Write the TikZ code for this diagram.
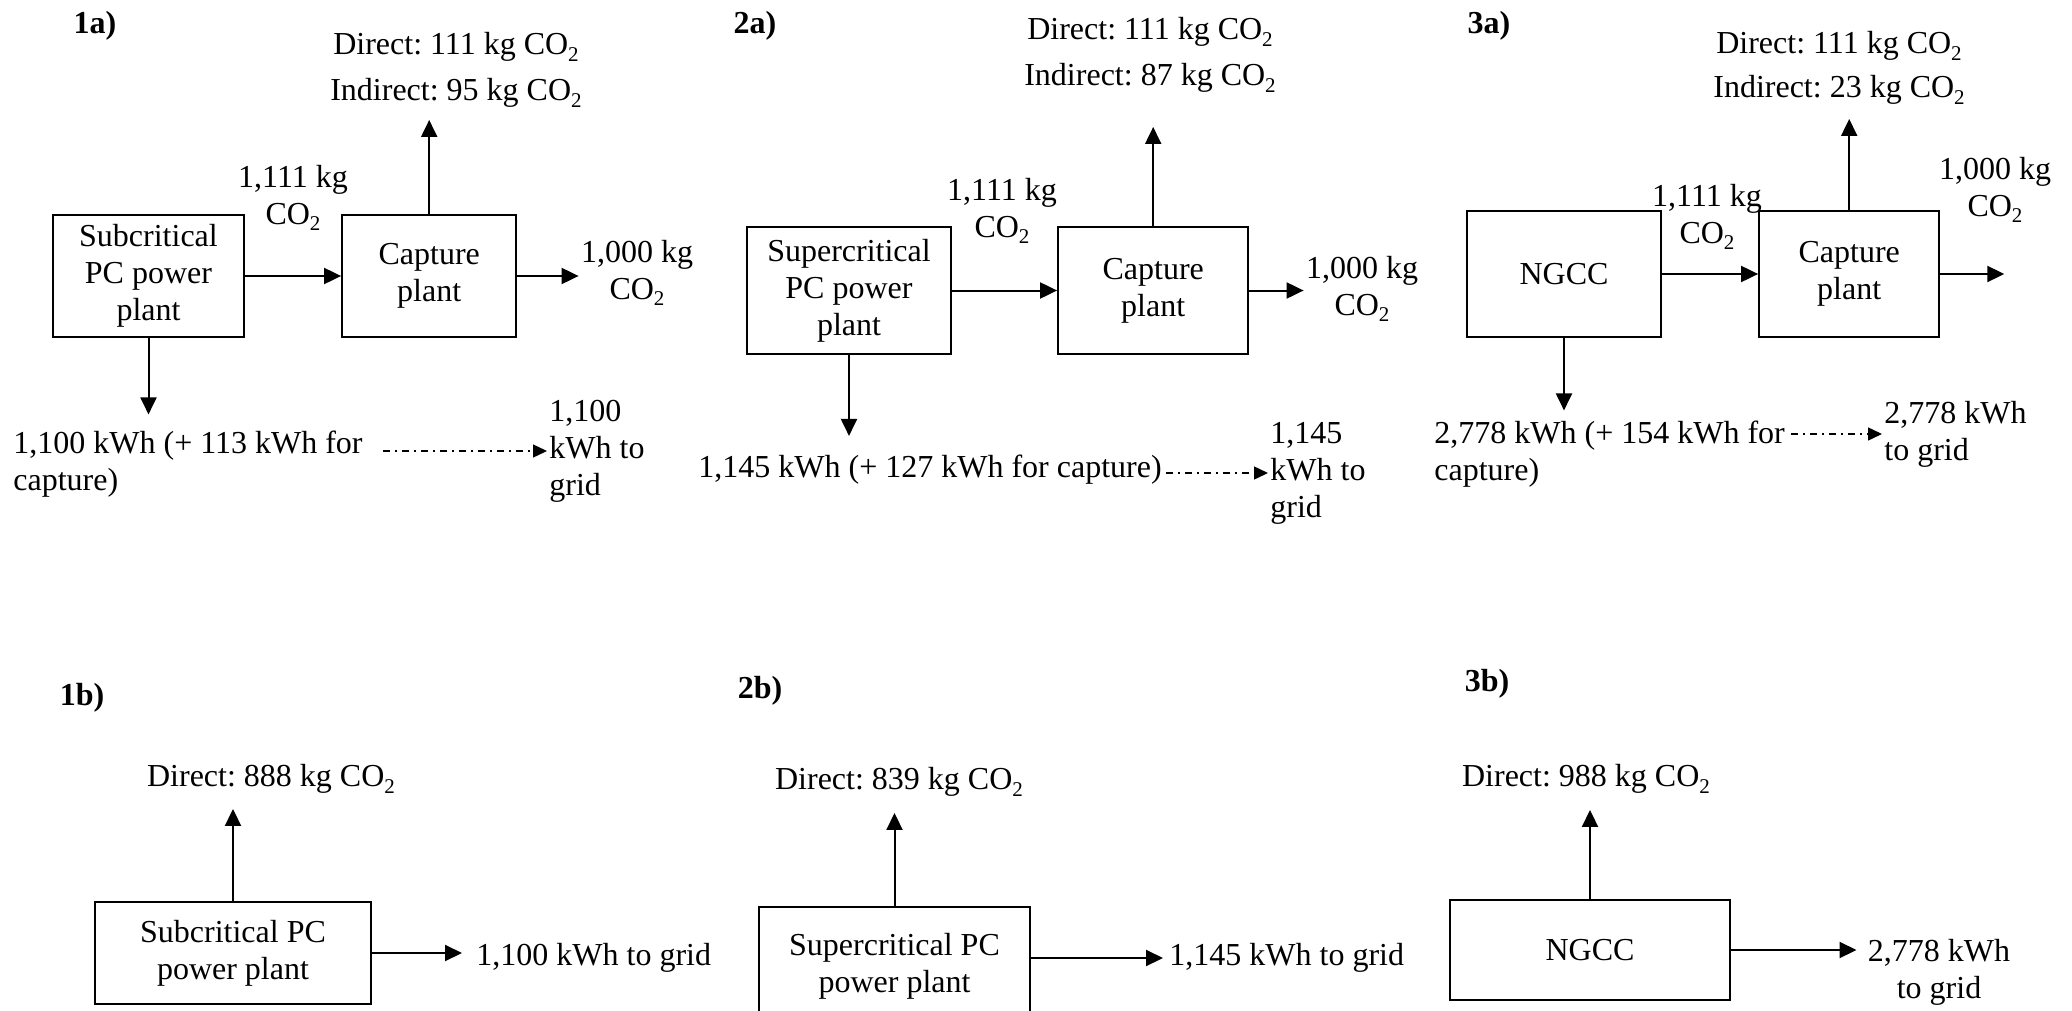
\documentclass[tikz,border=0pt]{standalone}
\usepackage{fontspec}
\setmainfont{Liberation Serif}
\usepackage{tikz}
\usetikzlibrary{
  arrows.meta,
  positioning,
  calc
}
\frenchspacing
\newcommand{\cotwo}{CO\raisebox{-0.45ex}{\fontsize{10.5}{11}\selectfont 2}}

\begin{document}
\begin{tikzpicture}[
    x=0.5pt, y=-0.5pt,
    font=\fontsize{16}{18.5}\selectfont,
    >={Triangle[length=8.5pt, width=8pt]},
    plantbox/.style={draw, line width=1.1pt, align=center, inner sep=2pt},
    txt/.style={align=center, inner sep=1pt},
    txtl/.style={align=left, inner sep=1pt},
    tag/.style={font=\fontsize{16}{18.5}\selectfont\bfseries, inner sep=0pt},
    flow/.style={->, line width=1pt},
    gridflow/.style={-{Triangle[length=7pt, width=6.5pt]}, line width=0.7pt, dash pattern=on 3.5pt off 2.5pt on 1pt off 2.5pt},
]
\useasboundingbox (0,0) rectangle (2072,1011);

% === 1a) Subcritical PC with capture ===
\node[tag] (tag1a) at (95,26) {1a)};
\node[plantbox, minimum width=95.5pt, minimum height=61pt] (sub1a) at (148.5,276) {Subcritical\\PC power\\plant};
\node[plantbox, minimum width=87pt, minimum height=61pt, right=48pt of sub1a] (cap1a) {Capture\\plant};
\node[txt] (in1a) at (293,198) {1,111 kg\\\cotwo};
\node[txt] (em1a) at (456,70) {Direct: 111 kg \cotwo\\[4.5pt]Indirect: 95 kg \cotwo};
\node[txt] (out1a) at (637,273) {1,000 kg\\\cotwo};
\node[txtl, anchor=west] (el1a) at (11,464) {1,100 kWh (+ 113 kWh for\\capture)};
\node[txtl, anchor=west] (grid1a) at (547,451) {1,100\\kWh to\\grid};

\draw[flow] (sub1a) -- (cap1a);
\draw[flow, shorten >=5pt] (cap1a.north) -- (cap1a.north |- em1a.south);
\draw[flow] (cap1a) -- (cap1a -| out1a.west);
\draw[flow, shorten >=7pt] (sub1a.south) -- (sub1a.south |- el1a.north);
\draw[gridflow, shorten <=9pt] (el1a.east |- grid1a.west) -- (grid1a.west);

% === 2a) Supercritical PC with capture ===
\node[tag] (tag2a) at (755,26) {2a)};
\node[plantbox, minimum width=102pt, minimum height=63.5pt] (sup2a) at (849,290.5) {Supercritical\\PC power\\plant};
\node[plantbox, minimum width=95pt, minimum height=63.5pt, right=52.5pt of sup2a] (cap2a) {Capture\\plant};
\node[txt] (in2a) at (1002,211) {1,111 kg\\\cotwo};
\node[txt] (em2a) at (1150,55) {Direct: 111 kg \cotwo\\[4.5pt]Indirect: 87 kg \cotwo};
\node[txt] (out2a) at (1362,289) {1,000 kg\\\cotwo};
\node[txtl, anchor=west] (el2a) at (696,470) {1,145 kWh (+ 127 kWh for capture)};
\node[txtl, anchor=west] (grid2a) at (1268,473) {1,145\\kWh to\\grid};

\draw[flow] (sup2a) -- (cap2a);
\draw[flow, shorten >=16pt] (cap2a.north) -- (cap2a.north |- em2a.south);
\draw[flow] (cap2a) -- (cap2a -| out2a.west);
\draw[flow, shorten >=8.5pt] (sup2a.south) -- (sup2a.south |- el2a.north);
\draw[gridflow, shorten <=1pt] (el2a.east |- grid2a.west) -- (grid2a.west);

% === 3a) NGCC with capture ===
\node[tag] (tag3a) at (1489,26) {3a)};
\node[plantbox, minimum width=97pt, minimum height=63pt] (ngcc3a) at (1564,274) {NGCC};
\node[plantbox, minimum width=90pt, minimum height=63pt, right=48pt of ngcc3a] (cap3a) {Capture\\plant};
\node[txt] (in3a) at (1707,217) {1,111 kg\\\cotwo};
\node[txt] (em3a) at (1839,68) {Direct: 111 kg \cotwo\\[3.5pt]Indirect: 23 kg \cotwo};
\node[txt] (out3a) at (1995,190) {1,000 kg\\\cotwo};
\coordinate[right=32pt of cap3a] (end3a);
\node[txtl, anchor=west] (el3a) at (1432,454) {2,778 kWh (+ 154 kWh for\\capture)};
\node[txtl, anchor=west] (grid3a) at (1882,434) {2,778 kWh\\to grid};

\draw[flow] (ngcc3a) -- (cap3a);
\draw[flow, shorten >=6pt] (cap3a.north) -- (cap3a.north |- em3a.south);
\draw[flow] (cap3a) -- (end3a);
\draw[flow, shorten >=4pt] (ngcc3a.south) -- (ngcc3a.south |- el3a.north);
\draw[gridflow, shorten <=2pt] (el3a.east |- grid3a.west) -- (grid3a.west);

% === 1b) Subcritical PC, no capture ===
\node[tag] (tag1b) at (82,698) {1b)};
\node[plantbox, minimum width=138pt, minimum height=51pt] (sub1b) at (233,953) {Subcritical PC\\power plant};
\node[txt] (em1b) at (271,779) {Direct: 888 kg \cotwo};
\node[txtl, anchor=west] (grid1b) at (474,958) {1,100 kWh to grid};

\draw[flow, shorten >=6.5pt] (sub1b.north) -- (sub1b.north |- em1b.south);
\draw[flow, shorten >=6pt] (sub1b) -- (sub1b -| grid1b.west);

% === 2b) Supercritical PC, no capture ===
\node[tag] (tag2b) at (760,691) {2b)};
\node[plantbox, minimum width=135.5pt, minimum height=59pt] (sup2b) at (894.5,966) {Supercritical PC\\power plant};
\node[txt] (em2b) at (899,782) {Direct: 839 kg \cotwo};
\node[txtl, anchor=west] (grid2b) at (1167,958) {1,145 kWh to grid};

\draw[flow, shorten >=7pt] (sup2b.north) -- (sup2b.north |- em2b.south);
\draw[flow, shorten >=2pt] (sup2b.east |- grid2b.west) -- (grid2b.west);

% === 3b) NGCC, no capture ===
\node[tag] (tag3b) at (1487,684) {3b)};
\node[plantbox, minimum width=140pt, minimum height=50pt] (ngcc3b) at (1590,950) {NGCC};
\node[txt] (em3b) at (1586,779) {Direct: 988 kg \cotwo};
\node[txt] (grid3b) at (1939,972) {2,778 kWh\\to grid};

\draw[flow, shorten >=7pt] (ngcc3b.north) -- (ngcc3b.north |- em3b.south);
\draw[flow, shorten >=4.5pt] (ngcc3b) -- (ngcc3b -| grid3b.west);

\end{tikzpicture}
\end{document}
